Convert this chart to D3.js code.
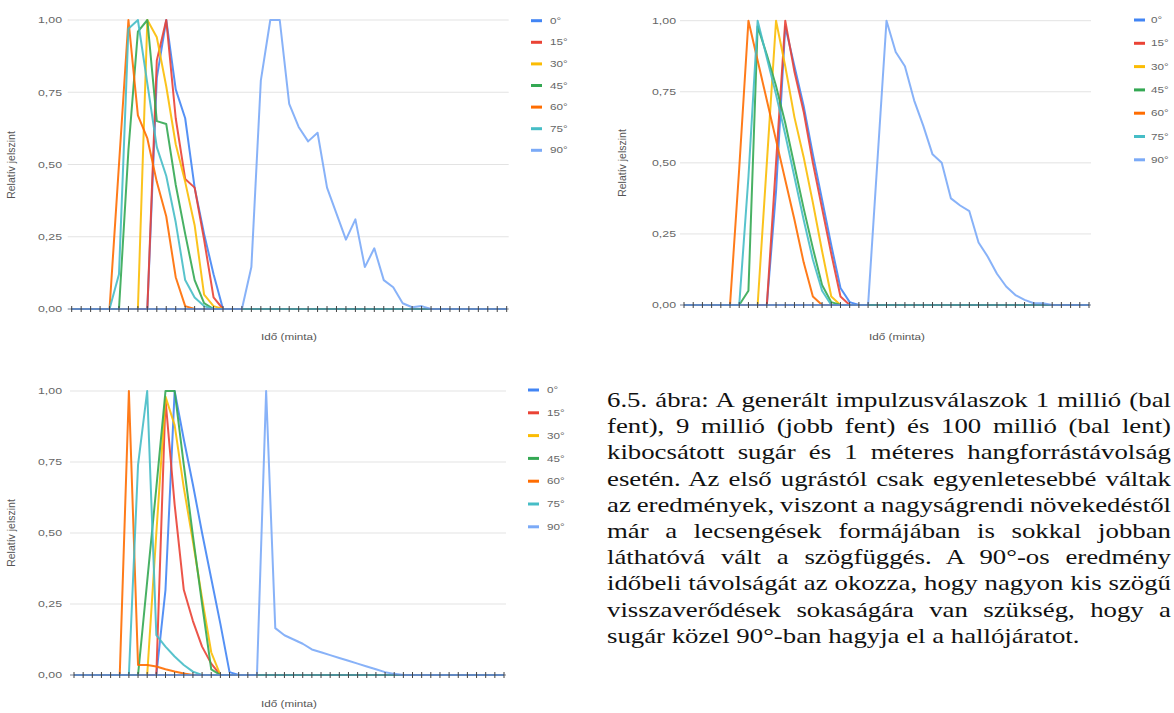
<!DOCTYPE html>
<html>
<head>
<meta charset="utf-8">
<script src="https://cdn.jsdelivr.net/npm/d3@7.9.0/dist/d3.min.js"></script>
<style>
  html, body { margin: 0; padding: 0; background: #fff; }
  svg { display: block; font-family: "Liberation Sans", Arial, sans-serif; }
</style>
</head>
<body>
<svg id="fig" width="1174" height="713"></svg>
<script>
// Legend labels, colours (Google Sheets palette) and y ticks
const angles = ["0°", "15°", "30°", "45°", "60°", "75°", "90°"];
const colors = ["#4285f4", "#ea4335", "#fbbc04", "#34a853", "#ff6d01", "#46bdc6", "#7baaf7"];
const yTicks = [0, 0.25, 0.5, 0.75, 1];

// 1 million rays (top left), 47 samples
const m1_0  = [0,0,0,0,0,0,0,0,0, 0.8,1,0.76,0.66,0.42,0.26,0.12, 0,0,0,0,0,0,0,0,0,0, 0,0,0,0,0,0,0,0,0,0, 0,0,0,0,0,0,0,0,0,0, 0];
const m1_15 = [0,0,0,0,0,0,0,0,0, 0.86,1,0.66,0.45,0.42,0.24,0.04, 0,0,0,0,0,0,0,0,0,0, 0,0,0,0,0,0,0,0,0,0, 0,0,0,0,0,0,0,0,0,0, 0];
const m1_30 = [0,0,0,0,0,0,0,0, 1,0.94,0.77,0.57,0.44,0.29,0.05,0.01, 0,0,0,0,0,0,0,0,0,0, 0,0,0,0,0,0,0,0,0,0, 0,0,0,0,0,0,0,0,0,0, 0];
const m1_45 = [0,0,0,0,0,0, 0.55,0.96,1,0.65,0.64,0.43,0.26,0.1,0.02, 0,0,0,0,0,0,0,0,0,0, 0,0,0,0,0,0,0,0,0,0, 0,0,0,0,0,0,0,0,0,0, 0,0];
const m1_60 = [0,0,0,0,0, 0.5,1,0.67,0.59,0.44,0.32,0.11,0.01, 0,0,0,0,0,0,0,0,0,0, 0,0,0,0,0,0,0,0,0,0, 0,0,0,0,0,0,0,0,0,0, 0,0,0,0];
const m1_75 = [0,0,0,0,0, 0.12,0.97,1,0.78,0.56,0.46,0.3,0.1,0.04,0.01, 0,0,0,0,0,0,0,0,0,0, 0,0,0,0,0,0,0,0,0,0, 0,0,0,0,0,0,0,0,0,0, 0,0];
const m1_90 = [0,0,0,0,0,0,0,0,0,0, 0,0,0,0,0,0,0,0,0, 0.145,0.79,1,1,0.71,0.63,0.58,0.61,0.42,0.33,0.24,0.31,0.145,0.21,0.1,0.075,0.02,0.006,0.01, 0,0,0,0,0,0,0,0,0];

// 9 million rays (top right), 45 samples
const m9_0  = [0,0,0,0,0,0,0,0,0,0, 0.4,0.98,0.84,0.7,0.53,0.37,0.21,0.06,0.01, 0,0,0,0,0,0,0,0,0,0, 0,0,0,0,0,0,0,0,0,0, 0,0,0,0,0,0];
const m9_15 = [0,0,0,0,0,0,0,0,0,0, 0.5,1,0.82,0.68,0.5,0.34,0.18,0.03, 0,0,0,0,0,0,0,0,0,0, 0,0,0,0,0,0,0,0,0,0, 0,0,0,0,0,0,0];
const m9_30 = [0,0,0,0,0,0,0,0,0, 0.5,1,0.84,0.66,0.52,0.36,0.19,0.03, 0,0,0,0,0,0,0,0,0,0, 0,0,0,0,0,0,0,0,0,0, 0,0,0,0,0,0,0,0];
const m9_45 = [0,0,0,0,0,0,0, 0.05,0.98,0.88,0.77,0.64,0.49,0.34,0.2,0.07,0.01, 0,0,0,0,0,0,0,0,0,0, 0,0,0,0,0,0,0,0,0,0, 0,0,0,0,0,0,0,0];
const m9_60 = [0,0,0,0,0,0, 0.48,1,0.86,0.72,0.58,0.44,0.3,0.15,0.03, 0,0,0,0,0,0,0,0,0,0, 0,0,0,0,0,0,0,0,0,0, 0,0,0,0,0,0,0,0,0,0];
const m9_75 = [0,0,0,0,0,0,0, 0.45,1,0.87,0.74,0.6,0.45,0.3,0.16,0.05, 0,0,0,0,0,0,0,0,0,0, 0,0,0,0,0,0,0,0,0,0, 0,0,0,0,0,0,0,0,0];
const m9_90 = [0,0,0,0,0,0,0,0,0,0, 0,0,0,0,0,0,0,0,0,0, 0, 0.5,1,0.89,0.84,0.72,0.63,0.53,0.5,0.375,0.35,0.33,0.22,0.17,0.11,0.065,0.035,0.018,0.006,0.006, 0,0,0,0,0];

// 100 million rays (bottom left), 48 samples
const m100_0  = [0,0,0,0,0,0,0,0,0,0, 0.3,1,0.83,0.67,0.5,0.34,0.18,0.01, 0,0,0,0,0,0,0,0,0,0, 0,0,0,0,0,0,0,0,0,0, 0,0,0,0,0,0,0,0,0,0];
const m100_15 = [0,0,0,0,0,0,0,0,0,0, 0.97,0.6,0.3,0.19,0.1,0.04, 0,0,0,0,0,0,0,0,0,0, 0,0,0,0,0,0,0,0,0,0, 0,0,0,0,0,0,0,0,0,0, 0,0];
const m100_30 = [0,0,0,0,0,0,0,0,0, 0.5,0.98,0.88,0.66,0.47,0.27,0.08, 0,0,0,0,0,0,0,0,0,0, 0,0,0,0,0,0,0,0,0,0, 0,0,0,0,0,0,0,0,0,0, 0,0];
const m100_45 = [0,0,0,0,0,0,0,0, 0.33,0.66,1,1,0.74,0.49,0.25,0.02, 0,0,0,0,0,0,0,0,0,0, 0,0,0,0,0,0,0,0,0,0, 0,0,0,0,0,0,0,0,0,0, 0,0];
const m100_60 = [0,0,0,0,0,0, 1,0.035,0.035,0.03,0.02,0.012,0.005, 0,0,0,0,0,0,0,0,0,0, 0,0,0,0,0,0,0,0,0,0, 0,0,0,0,0,0,0,0,0,0, 0,0,0,0,0];
const m100_75 = [0,0,0,0,0,0,0, 0.74,1,0.14,0.1,0.065,0.035,0.012, 0,0,0,0,0,0,0,0,0,0, 0,0,0,0,0,0,0,0,0,0, 0,0,0,0,0,0,0,0,0,0, 0,0,0,0];
const m100_90 = [0,0,0,0,0,0,0,0,0,0, 0,0,0,0,0,0,0,0,0,0, 0, 1,0.165,0.14,0.125,0.11,0.09,0.08,0.07,0.06,0.05,0.04,0.03,0.02,0.01,0.004, 0,0,0,0,0,0,0,0,0,0, 0,0];

const caption = [
  "6.5. ábra: A generált impulzusválaszok 1 millió (bal",
  "fent), 9 millió (jobb fent) és 100 millió (bal lent)",
  "kibocsátott sugár és 1 méteres hangforrástávolság",
  "esetén. Az első ugrástól csak egyenletesebbé váltak",
  "az eredmények, viszont a nagyságrendi növekedéstől",
  "már a lecsengések formájában is sokkal jobban",
  "láthatóvá vált a szögfüggés. A 90°-os eredmény",
  "időbeli távolságát az okozza, hogy nagyon kis szögű",
  "visszaverődések sokaságára van szükség, hogy a",
  "sugár közel 90°-ban hagyja el a hallójáratot."
];

// The scanned page is stretched sideways, so text is widened to match
const stretch = 1.3;

const svg = d3.select("#fig");
const fmt = (d) => d3.format(".2f")(d).replace(".", ",");

function drawChart(series, cfg) {
  const n = series[0].length;
  const x = d3.scaleLinear().domain([0, n - 1]).range([cfg.left, cfg.right]);
  const y = d3.scaleLinear().domain([0, 1]).range([cfg.bottom, cfg.top]);
  const g = svg.append("g");

  // Gridlines
  g.selectAll(".grid")
    .data(yTicks.slice(1))
    .join("line")
    .attr("x1", cfg.left - 4)
    .attr("x2", cfg.right + 2)
    .attr("y1", (d) => y(d))
    .attr("y2", (d) => y(d))
    .attr("stroke", "#e3e3e3")
    .attr("stroke-width", 1);

  // Y tick labels
  g.selectAll(".ylab")
    .data(yTicks)
    .join("text")
    .attr("transform", (d) => `translate(${cfg.labelX},${y(d)}) scale(${stretch},1)`)
    .attr("dy", "0.35em")
    .attr("text-anchor", "end")
    .attr("font-size", 9.5)
    .attr("fill", "#666")
    .text(fmt);

  // Axis titles
  g.append("text")
    .attr("transform", `translate(${cfg.yTitle[0]},${cfg.yTitle[1]}) rotate(-90)`)
    .attr("text-anchor", "middle")
    .attr("font-size", 10.5)
    .attr("fill", "#555")
    .text("Relatív jelszint");
  g.append("text")
    .attr("transform", `translate(${cfg.xTitle[0]},${cfg.xTitle[1]}) scale(${stretch},1)`)
    .attr("text-anchor", "middle")
    .attr("font-size", 9)
    .attr("fill", "#555")
    .text("Idő (minta)");

  // Series
  const line = d3.line().x((d, i) => x(i)).y((d) => y(d));
  g.selectAll(".series")
    .data(series)
    .join("path")
    .attr("d", line)
    .attr("fill", "none")
    .attr("stroke", (d, i) => colors[i])
    .attr("stroke-width", 2)
    .attr("stroke-linejoin", "round")
    .attr("opacity", 0.9);

  // Baseline with a tick on every sample
  g.append("line")
    .attr("x1", cfg.left - 4)
    .attr("x2", cfg.right + 2)
    .attr("y1", y(0))
    .attr("y2", y(0))
    .attr("stroke", "#3c4a66")
    .attr("stroke-opacity", 0.7);
  g.selectAll(".tick")
    .data(d3.range(n))
    .join("line")
    .attr("x1", (d) => x(d))
    .attr("x2", (d) => x(d))
    .attr("y1", y(0) - 3)
    .attr("y2", y(0) + 3)
    .attr("stroke", "#444")
    .attr("stroke-width", 1);

  // Legend
  const leg = g.selectAll(".leg")
    .data(angles)
    .join("g")
    .attr("transform", (d, i) => `translate(${cfg.legend[0]},${cfg.legend[1] + i * cfg.legend[2]})`);
  leg.append("line")
    .attr("x1", 0)
    .attr("x2", 11)
    .attr("stroke", (d, i) => colors[i])
    .attr("stroke-width", 3);
  leg.append("text")
    .attr("transform", `translate(${cfg.legend[3]},0) scale(${stretch},1)`)
    .attr("dy", "0.35em")
    .attr("font-size", 9)
    .attr("fill", "#666")
    .text((d) => d);
}

drawChart([m1_0, m1_15, m1_30, m1_45, m1_60, m1_75, m1_90], {
  left: 71.7, right: 506.7, top: 20, bottom: 309, labelX: 62,
  yTitle: [15, 165], xTitle: [289, 340], legend: [531, 20.7, 21.6, 19]
});
drawChart([m9_0, m9_15, m9_30, m9_45, m9_60, m9_75, m9_90], {
  left: 684, right: 1089, top: 20.7, bottom: 305, labelX: 676,
  yTitle: [626, 163], xTitle: [897, 340], legend: [1134, 20, 23.3, 17]
});
drawChart([m100_0, m100_15, m100_30, m100_45, m100_60, m100_75, m100_90], {
  left: 74, right: 504, top: 391, bottom: 675, labelX: 62,
  yTitle: [15, 533], xTitle: [289, 707], legend: [528, 390, 22.8, 19]
});

// Caption, justified like the printed page
const capX = 607, capRight = 1171, capTop = 407, capStep = 26.2, capStretch = 1.34;
const cap = svg.append("g")
  .attr("transform", `translate(${capX},0) scale(${capStretch},1)`)
  .attr("font-family", "'Liberation Serif', 'Times New Roman', serif")
  .attr("font-size", 20)
  .attr("fill", "#111");
caption.forEach((txt, i) => {
  const t = cap.append("text")
    .attr("x", 0)
    .attr("y", capTop + i * capStep)
    .text(txt);
  if (i < caption.length - 1) {
    const w = t.node().getComputedTextLength();
    const gaps = txt.split(" ").length - 1;
    t.attr("word-spacing", ((capRight - capX) / capStretch - w) / gaps);
  }
});
</script>
</body>
</html>
